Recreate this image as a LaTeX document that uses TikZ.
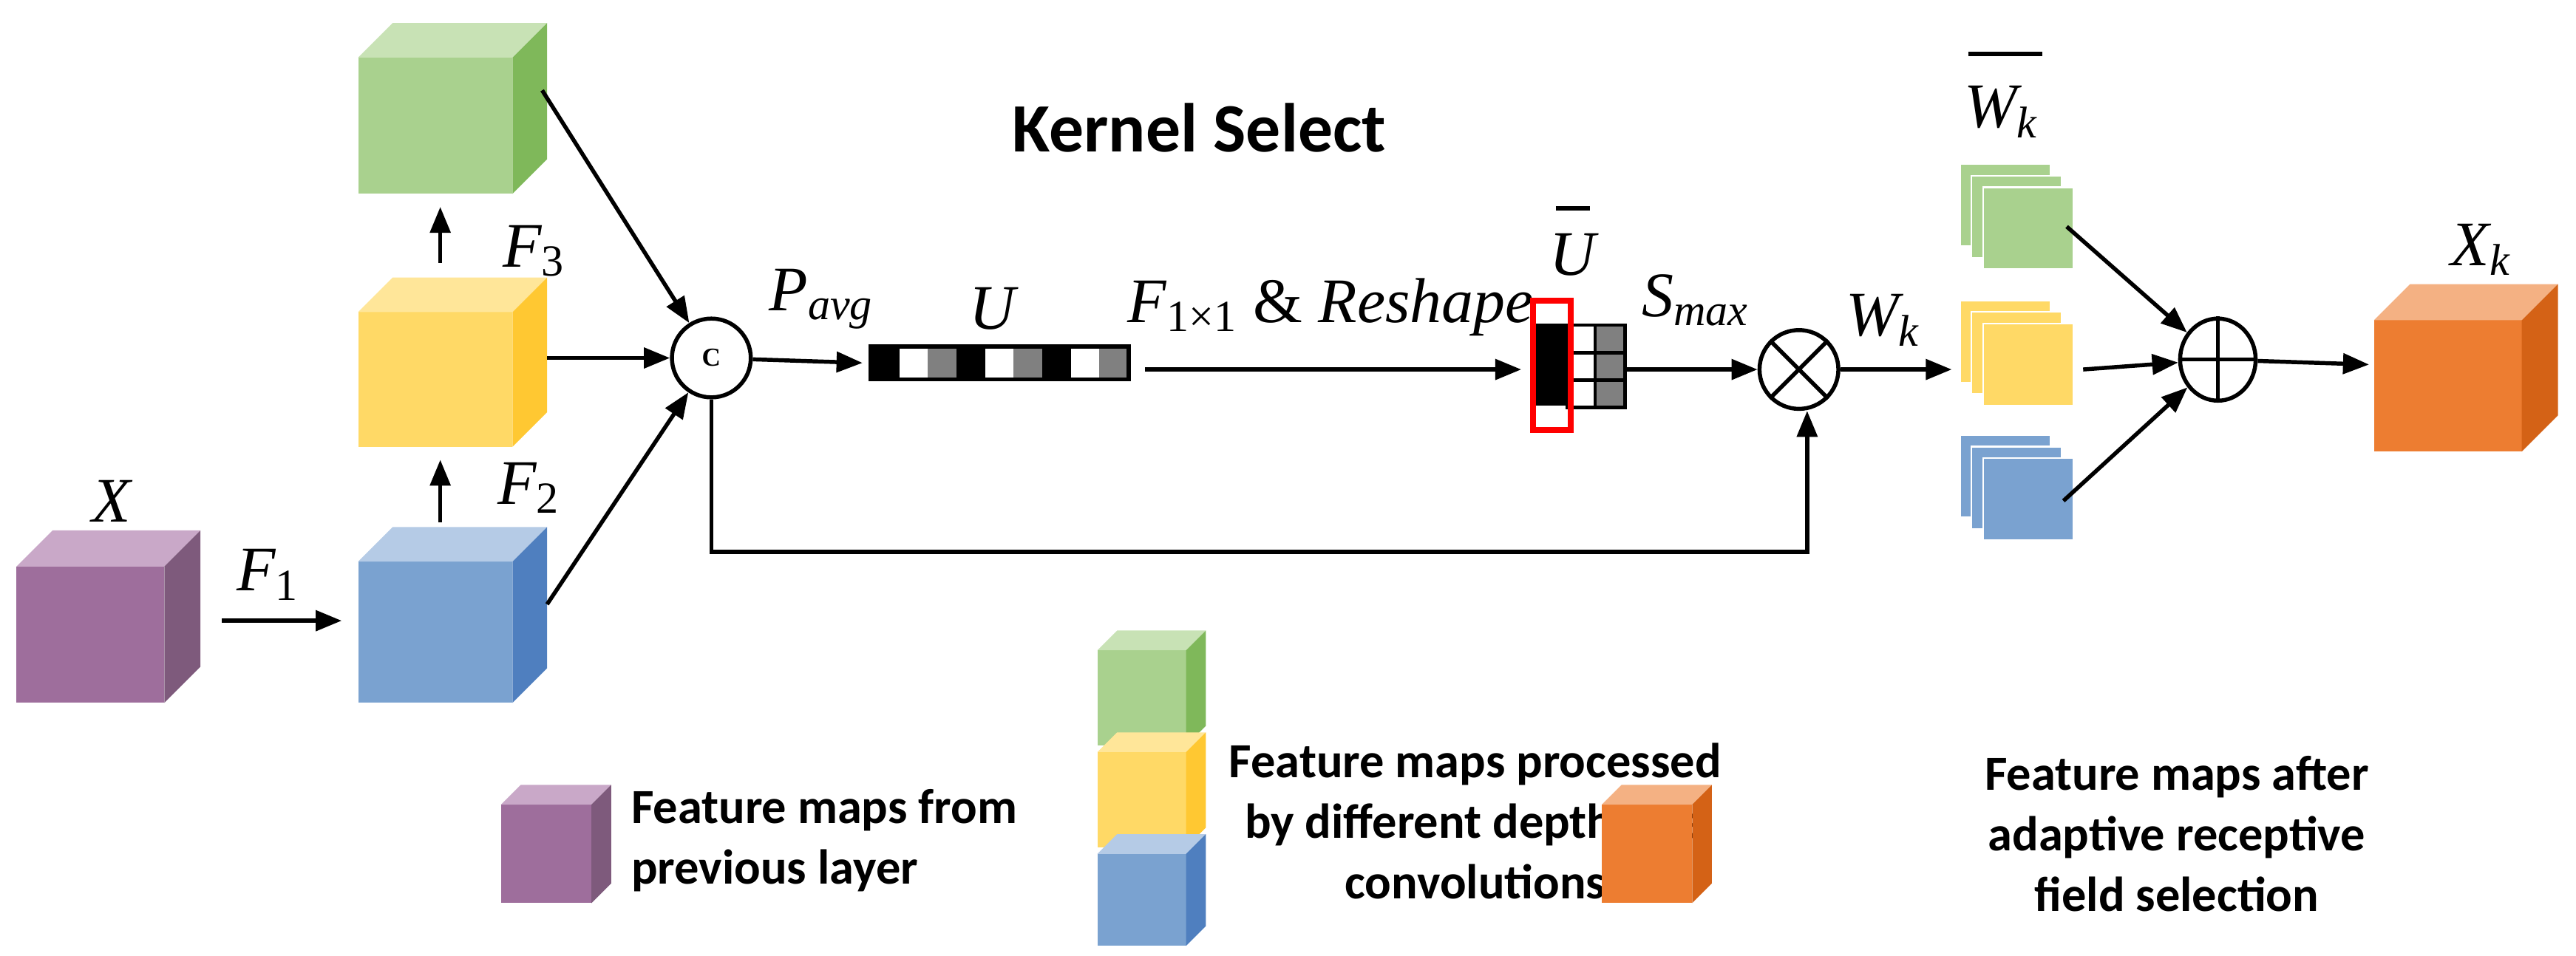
\documentclass[tikz,border=0pt]{standalone}
\usepackage{fontspec}
\setmainfont{Liberation Serif}
\newfontfamily\calfont{Carlito}
\usetikzlibrary{arrows.meta,shapes.geometric}
\definecolor{pF}{HTML}{9E6E9C}\definecolor{pT}{HTML}{C9A8C8}\definecolor{pS}{HTML}{7E5A7C}
\definecolor{bF}{HTML}{7AA2D0}\definecolor{bT}{HTML}{B5CBE6}\definecolor{bS}{HTML}{4F7FBF}
\definecolor{yF}{HTML}{FFD966}\definecolor{yT}{HTML}{FFE699}\definecolor{yS}{HTML}{FFC832}
\definecolor{gF}{HTML}{A9D18E}\definecolor{gT}{HTML}{C8E2B5}\definecolor{gS}{HTML}{7FB85A}
\definecolor{oF}{HTML}{ED7D31}\definecolor{oT}{HTML}{F4B183}\definecolor{oS}{HTML}{D46216}
\newcommand\mycube[6]{% x y w h d color
 \fill[#6F] (#1,#2) rectangle ++(#3,#4);
 \fill[#6T] (#1,#2) -- ++(#5,-#5) -- ++(#3,0) -- ++(-#5,#5) -- cycle;
 \fill[#6S] (#1+#3,#2) -- ++(#5,-#5) -- ++(0,#4) -- ++(-#5,#5) -- cycle;}
\newcommand\mystack[3]{% x y color
 \fill[#3F,draw=white,line width=0.6pt] (#1,#2) rectangle ++(55,50);
 \fill[#3F,draw=white,line width=0.6pt] (#1+7,#2+7) rectangle ++(55,50);
 \fill[#3F,draw=white,line width=0.6pt] (#1+14,#2+14) rectangle ++(55,50);}
\begin{document}
\begin{tikzpicture}[x=0.02cm,y=-0.02cm,
 arr/.style={-{Triangle[length=9pt,width=7pt]},line width=1.4pt},
 op/.style={circle,draw,line width=1.4pt,inner sep=0pt,minimum size=0.96cm},
 lab/.style={font=\fontsize{22}{26}\selectfont\itshape,inner sep=0pt},
 leg/.style={font=\calfont\bfseries\fontsize{17}{21}\selectfont,align=center,inner sep=0pt}]
\useasboundingbox (0,0) rectangle (1568,582);
% cubes
\mycube{10}{345}{90}{83}{22}{p}
\mycube{218}{342}{94}{86}{21}{b}
\mycube{218}{190}{94}{82}{21}{y}
\mycube{218}{35}{94}{83}{21}{g}
\mycube{1445}{195}{90}{80}{22}{o}
\node[lab] (lx) at (68,305) {X};
\node[lab] (lf1) at (163,350) {F\textsubscript{\upshape 1}};
\node[lab] (lf2) at (322,297) {F\textsubscript{\upshape 2}};
\node[lab] (lf3) at (325,153) {F\textsubscript{\upshape 3}};
\coordinate (f1a) at (135,378); \coordinate (f1b) at (208,378);
\draw[arr] (f1a) -- (f1b);
\coordinate (u1a) at (268,318); \coordinate (u1b) at (268,280);
\draw[arr] (u1a) -- (u1b);
\coordinate (u2a) at (268,160); \coordinate (u2b) at (268,126);
\draw[arr] (u2a) -- (u2b);
\node[op,font=\bfseries\small] (c) at (433,218) {C};
\coordinate (g1) at (330,55); \coordinate (y1) at (333,218); \coordinate (b1) at (333,368);
\draw[arr] (g1) -- (c); \draw[arr] (y1) -- (c); \draw[arr] (b1) -- (c);
\node[font=\calfont\bfseries\fontsize{24}{28}\selectfont] (ks) at (730,78) {Kernel Select};
\node[lab] (lp) at (500,182) {P\textsubscript{avg}};
\coordinate (ua) at (525,221);
\draw[arr] (c) -- (ua);
% U vector
\foreach \i/\c in {0/black,1/white,2/gray,3/black,4/white,5/gray,6/black,7/white,8/gray}
 \fill[\c] (530+\i*17.4,211) rectangle ++(17.4,20);
\draw[line width=1.4pt] (530,211) rectangle (687,231);
\node[lab] (lu) at (604,188) {U};
\coordinate (ra) at (697,225); \coordinate (rb) at (926,225);
\draw[arr] (ra) -- (rb);
\node[lab] (lr) at (810,187) {F\textsubscript{\upshape 1×1} {\upshape \&} Reshape};
% Ubar
\fill[black] (935,197) rectangle (954,247);
\foreach \j in {0,1,2}{\draw[line width=1.2pt,fill=white] (954,198+\j*16.7) rectangle ++(17,16.7);
 \draw[line width=1.2pt,fill=gray] (971,198+\j*16.7) rectangle ++(18,16.7);}
\draw[red,line width=2pt] (933,183) rectangle (956,262);
\node[lab] (lub) at (957,155) {U};
\draw[line width=1.6pt] (947,127) -- (968,127);
\node[op] (ot) at (1095,225) {};
\draw[line width=1.4pt] (ot.north east) -- (ot.south west) (ot.north west) -- (ot.south east);
\coordinate (sa) at (989,225);
\draw[arr] (sa) -- (ot);
\node[lab] (ls) at (1032,183) {S\textsubscript{max}};
\node[lab] (lw) at (1146,195) {W\textsubscript{k}};
\coordinate (wb) at (1188,225);
\draw[arr] (ot) -- (wb);
% feedback
\coordinate (fb1) at (433,336); \coordinate (fb2) at (1100,336);
\draw[arr] (c) -- (fb1) -- (fb2) -- (fb2 |- ot.south);
% stacks
\mystack{1193}{100}{g}
\mystack{1193}{183}{y}
\mystack{1193}{265}{b}
\node[lab] (lwb) at (1218,68) {W\textsubscript{k}};
\draw[line width=1.6pt] (1198,33) -- (1243,33);
\node[ellipse,draw,line width=1.4pt,inner sep=0pt,minimum width=0.92cm,minimum height=1.0cm] (pl) at (1350,219) {};
\draw[line width=1.4pt] (pl.north) -- (pl.south) (pl.west) -- (pl.east);
\coordinate (sg) at (1258,138); \coordinate (sy) at (1268,225); \coordinate (sb) at (1256,305);
\draw[arr] (sg) -- (pl); \draw[arr] (sy) -- (pl); \draw[arr] (sb) -- (pl);
\coordinate (xo) at (1442,222);
\draw[arr] (pl) -- (xo);
\node[lab] (lxk) at (1510,152) {X\textsubscript{k}};
% legend
\mycube{305}{490}{55}{60}{12}{p}
\node[leg,align=left,anchor=west] (t1) at (384,512) {Feature maps from\\previous layer};
\mycube{668}{396}{54}{58}{12}{g}
\mycube{668}{458}{54}{58}{12}{y}
\mycube{668}{520}{54}{56}{12}{b}
\node[leg] (t2) at (898,500) {Feature maps processed\\by different depthwise\\convolutions};
\mycube{975}{490}{55}{60}{12}{o}
\node[leg] (t3) at (1325,508) {Feature maps after\\adaptive receptive\\field selection};
\end{tikzpicture}
\end{document}
